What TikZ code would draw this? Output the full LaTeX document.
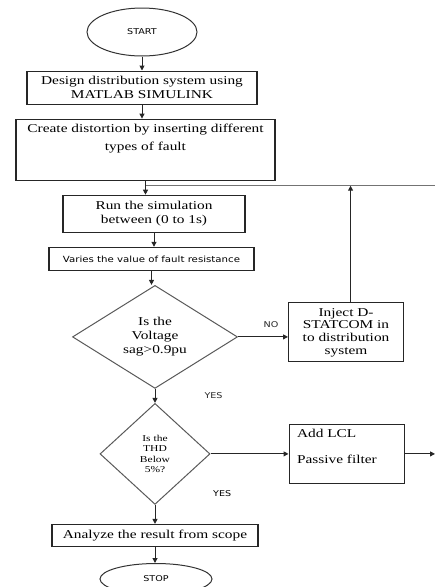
\documentclass[tikz,border=0pt]{standalone}
\usepackage{fontspec}
\setmainfont{Liberation Serif}[FakeStretch=1.28]
\newfontfamily\tagfont{DejaVu Sans}[FakeStretch=1.2]
\usetikzlibrary{arrows.meta,positioning,shapes.geometric,calc}

\begin{document}
\begin{tikzpicture}[
    x=1pt, y=-1pt,
    node distance=14pt,
    every node/.style={font=\fontsize{12}{13.5}\selectfont},
    termbox/.style={
      ellipse, draw=black!80, line width=1pt, inner sep=0pt,
      font=\tagfont\fontsize{8}{9}\selectfont
    },
    procbox/.style={
      rectangle, draw=black!85, line width=1.1pt, align=center, inner sep=2pt
    },
    decbox/.style={
      diamond, aspect=1.6, draw=black!65, line width=1pt, align=center,
      inner sep=0pt
    },
    lbl/.style={font=\tagfont\fontsize{8}{9}\selectfont, inner sep=1pt},
    arr/.style={-{Triangle[length=5pt,width=5pt]}, line width=1pt, black!85},
    backline/.style={line width=1.5pt, black!55}
  ]
    \useasboundingbox (0,0) rectangle (435,587);

    \node[termbox, minimum width=110pt, minimum height=48pt] (start) at (142,32) {START};
    \node[procbox, minimum width=230pt, minimum height=33pt, below=of start] (design)
      {Design distribution system using\\MATLAB SIMULINK};
    \node[procbox, minimum width=259pt, minimum height=61pt, below=of design, xshift=3.5pt] (distort) {};
    \node[align=center, below=2pt of distort.north] (distorttxt)
      {Create distortion by inserting different\\[4pt]types of fault};
    \node[procbox, minimum width=182pt, minimum height=37pt, below=of distort, xshift=8.5pt] (run)
      {Run the simulation\\between (0 to 1s)};
    \node[procbox, minimum width=205pt, minimum height=23pt, below=of run, xshift=-2.5pt,
      font=\tagfont\fontsize{8.5}{10}\selectfont] (vary) {Varies the value of fault resistance};
    \node[decbox, minimum width=165pt, minimum height=103pt, below=of vary, xshift=3.5pt,
      font=\fontsize{12}{14}\selectfont] (volt) {Is the\\Voltage\\sag>0.9pu};
    \node[procbox, minimum width=115pt, minimum height=59pt, right=50pt of volt, yshift=4.5pt,
      font=\fontsize{12}{12.7}\selectfont] (inject) {Inject D-\\STATCOM in\\to distribution\\system};
    \node[decbox, minimum width=110pt, minimum height=101pt, below=of volt,
      font=\fontsize{9}{10.5}\selectfont] (thd) {Is the\\THD\\Below\\5\%?};
    \node[procbox, minimum width=115pt, minimum height=59pt, right=78pt of thd] (lcl) {};
    \node[align=left, below right=2pt and 5pt of lcl.north west] (lcltxt)
      {Add LCL\\[12pt]Passive filter};
    \node[procbox, minimum width=206pt, minimum height=22pt, below=19pt of thd] (analyze)
      {Analyze the result from scope};
    \node[termbox, minimum width=112pt, minimum height=31pt, below=16pt of analyze, xshift=1pt] (stop) {STOP};

    % feedback line along the top
    \coordinate[below=5pt of distort.south] (join);
    \coordinate (rimtop) at (435,0);
    \draw[backline] (join) -- (join -| rimtop);

    \draw[arr] (start) -- (design);
    \draw[arr] (design.south) -- (design.south |- distort.north);
    \draw[arr] (distort.south) -- (distort.south |- run.north);
    \draw[arr] (run.south) -- (run.south |- vary.north);
    \draw[arr] (vary.south) -- (vary.south |- volt.north);
    \draw[arr] (volt.east) -- node[lbl, above=8pt, pos=0.66] (no) {NO} (volt.east -| inject.west);
    \draw[arr] ([xshift=4.5pt]inject.north) -- ([xshift=4.5pt]inject.north |- join);
    \draw[arr] (volt.south) -- node[lbl, right=48pt] (yesa) {YES} (thd.north);
    \draw[arr] (thd.east) -- (thd.east -| lcl.west);
    \draw[arr] (lcl.east) -- (lcl.east -| rimtop);
    \node[lbl, above right=7pt and 57pt of thd.south] (yesb) {YES};
    \draw[arr] (thd.south) -- (thd.south |- analyze.north);
    \draw[arr] (analyze.south) -- (analyze.south |- stop.north);
  \end{tikzpicture}
\end{document}
